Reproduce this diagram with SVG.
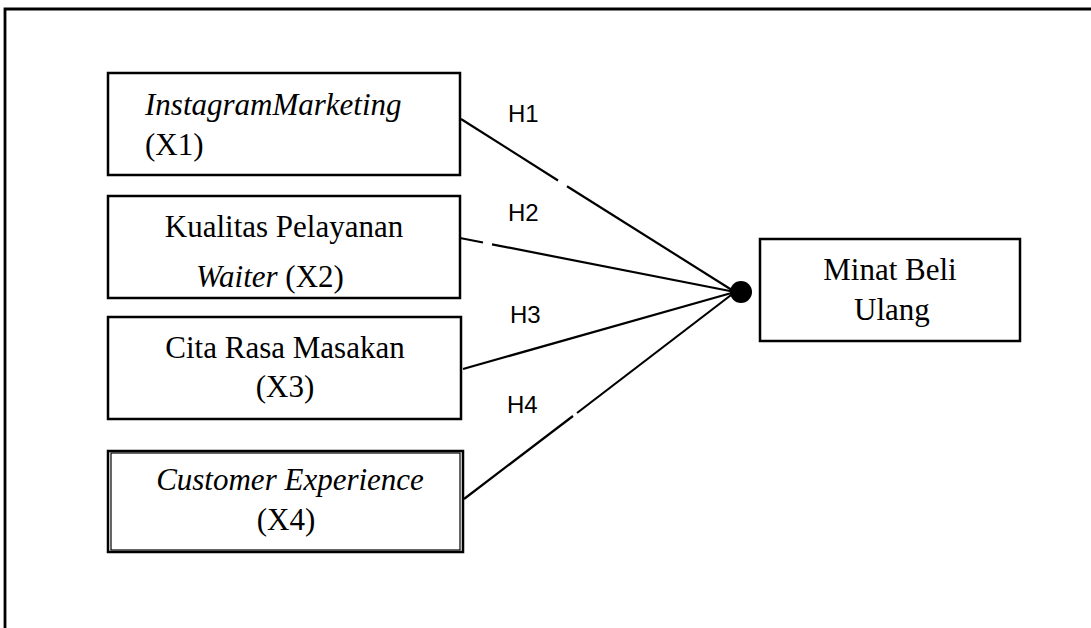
<svg xmlns="http://www.w3.org/2000/svg" width="1091" height="628" viewBox="0 0 1091 628">
<style>
.box{fill:#fff;stroke:#000;stroke-width:2.5}
.t{font-family:"Liberation Serif","Times New Roman",serif;font-size:31px;fill:#000}
.i{font-style:italic}
.h{font-family:"Liberation Sans",Arial,sans-serif;font-size:24px;fill:#000}
.ln{stroke:#000;stroke-width:2.2;fill:none}
</style>
<rect width="1091" height="628" fill="#fff"/>
<path d="M5,628 V9 H1091" fill="none" stroke="#000" stroke-width="2.8"/>
<g id="connectors">
<line class="ln" x1="461" y1="119" x2="558" y2="180.5"/>
<line class="ln" x1="567" y1="186.2" x2="735" y2="292"/>
<line class="ln" x1="460" y1="238" x2="483" y2="242.5"/>
<line class="ln" x1="492" y1="244.3" x2="735" y2="292"/>
<line class="ln" x1="463" y1="369" x2="735" y2="292"/>
<line class="ln" x1="464" y1="499" x2="573" y2="416"/>
<line class="ln" x1="577" y1="413" x2="735" y2="292"/>
<circle cx="741" cy="292" r="11" fill="#000"/>
<text class="h" x="508" y="122">H1</text>
<text class="h" x="508" y="221">H2</text>
<text class="h" x="510" y="323">H3</text>
<text class="h" x="507" y="413">H4</text>
</g>
<g id="x1">
<rect class="box" x="108" y="73" width="352" height="102"/>
<text class="t i" x="145" y="115">InstagramMarketing</text>
<text class="t" x="145" y="155">(X1)</text>
</g>
<g id="x2">
<rect class="box" x="108" y="196" width="352" height="102"/>
<text class="t" x="284" y="237" text-anchor="middle">Kualitas Pelayanan</text>
<text class="t" x="270" y="287" text-anchor="middle"><tspan class="i">Waiter</tspan> (X2)</text>
</g>
<g id="x3">
<rect class="box" x="108" y="317" width="353" height="102"/>
<text class="t" x="285" y="358" text-anchor="middle">Cita Rasa Masakan</text>
<text class="t" x="285" y="397" text-anchor="middle">(X3)</text>
</g>
<g id="x4">
<rect class="box" x="108" y="451" width="355" height="101"/>
<rect x="111" y="453" width="349" height="97" fill="none" stroke="#000" stroke-width="1.2"/>
<text class="t i" x="290" y="490" text-anchor="middle">Customer Experience</text>
<text class="t" x="286" y="530" text-anchor="middle">(X4)</text>
</g>
<g id="y">
<rect class="box" x="760" y="239" width="260" height="102"/>
<text class="t" x="890" y="280" text-anchor="middle">Minat Beli</text>
<text class="t" x="892" y="320" text-anchor="middle">Ulang</text>
</g>
</svg>
